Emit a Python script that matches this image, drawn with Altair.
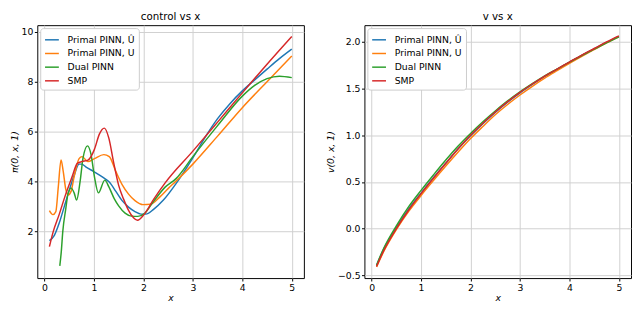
import altair as alt
import pandas as pd

series_names = ["Primal PINN, Û", "Primal PINN, U", "Dual PINN", "SMP"]
colors = ["#1f77b4", "#ff7f0e", "#2ca02c", "#d62728"]

# ---- left panel: control vs x ----
blue_x = [0.10, 0.20, 0.30, 0.40, 0.50, 0.60, 0.70, 0.75, 0.85, 1.00, 1.20, 1.31, 1.44, 1.57, 1.70, 1.83, 1.95, 2.05, 2.20, 2.40, 2.66, 3.00, 3.25, 3.50, 3.75, 4.00, 4.25, 4.50, 4.75, 5.00]
blue_y = [1.64, 1.85, 2.35, 3.00, 3.65, 4.25, 4.70, 4.70, 4.57, 4.40, 4.15, 3.98, 3.62, 3.24, 2.98, 2.80, 2.70, 2.70, 2.88, 3.25, 3.92, 4.95, 5.78, 6.52, 7.12, 7.63, 8.07, 8.50, 8.92, 9.30]

orange_x = [0.10, 0.17, 0.23, 0.28, 0.335, 0.38, 0.43, 0.48, 0.54, 0.60, 0.70, 0.76, 0.88, 1.01, 1.20, 1.31, 1.44, 1.57, 1.70, 1.83, 1.99, 2.15, 2.34, 2.50, 2.66, 3.00, 3.50, 4.00, 4.50, 5.00]
orange_y = [2.84, 2.68, 2.80, 3.80, 4.87, 4.40, 3.70, 3.47, 3.62, 4.20, 4.92, 5.00, 4.80, 4.92, 5.08, 5.00, 4.42, 3.88, 3.50, 3.24, 3.08, 3.10, 3.40, 3.72, 4.02, 4.70, 5.82, 6.96, 8.00, 9.03]

green_x = [0.31, 0.34, 0.37, 0.43, 0.48, 0.54, 0.60, 0.65, 0.72, 0.78, 0.87, 0.94, 1.01, 1.09, 1.22, 1.30, 1.41, 1.50, 1.63, 1.76, 1.89, 2.02, 2.21, 2.44, 2.66, 3.00, 3.50, 4.00, 4.25, 4.50, 4.75, 5.00]
green_y = [0.63, 1.20, 2.00, 2.90, 3.55, 3.74, 3.55, 3.26, 4.00, 4.95, 5.43, 5.10, 4.20, 3.55, 4.06, 3.80, 3.32, 3.03, 2.74, 2.62, 2.61, 2.72, 3.22, 3.78, 4.12, 5.00, 6.24, 7.42, 7.85, 8.12, 8.22, 8.16]

red_x = [0.10, 0.17, 0.30, 0.43, 0.56, 0.66, 0.75, 0.88, 1.01, 1.11, 1.21, 1.30, 1.40, 1.50, 1.60, 1.70, 1.80, 1.88, 2.02, 2.21, 2.44, 3.00, 3.50, 4.00, 4.50, 5.00]
red_y = [1.40, 1.95, 2.70, 3.50, 4.20, 4.72, 4.80, 4.86, 5.29, 5.90, 6.14, 5.75, 4.75, 3.85, 3.30, 2.85, 2.55, 2.45, 2.70, 3.30, 3.95, 5.22, 6.38, 7.55, 8.70, 9.81]

# ---- right panel: v vs x ----
v_x = [0.10, 0.25, 0.50, 0.75, 1.00, 1.25, 1.50, 1.75, 2.00, 2.25, 2.50, 2.75, 3.00, 3.25, 3.50, 3.75, 4.00, 4.25, 4.50, 4.75, 5.00]
v_blue = [-0.395, -0.215, 0.01, 0.21, 0.38, 0.545, 0.70, 0.855, 0.995, 1.125, 1.245, 1.355, 1.455, 1.545, 1.63, 1.708, 1.783, 1.857, 1.927, 1.995, 2.06]
v_orange = [-0.41, -0.24, -0.01, 0.185, 0.355, 0.515, 0.67, 0.82, 0.965, 1.095, 1.22, 1.33, 1.432, 1.525, 1.612, 1.692, 1.77, 1.845, 1.918, 1.99, 2.055]
v_green = [-0.39, -0.205, 0.03, 0.235, 0.41, 0.575, 0.735, 0.885, 1.02, 1.145, 1.26, 1.368, 1.465, 1.553, 1.636, 1.71, 1.783, 1.855, 1.923, 1.99, 2.055]
v_red = [-0.405, -0.23, 0.0, 0.20, 0.375, 0.54, 0.70, 0.855, 1.0, 1.13, 1.25, 1.36, 1.46, 1.55, 1.635, 1.71, 1.785, 1.86, 1.93, 2.0, 2.065]


def long_frame(pairs):
    rows = []
    for order, (name, xs, ys) in enumerate(pairs):
        for x, y in zip(xs, ys):
            rows.append({"series": name, "order": order, "x": x, "y": y})
    return pd.DataFrame(rows)


left_df = long_frame([
    (series_names[0], blue_x, blue_y),
    (series_names[1], orange_x, orange_y),
    (series_names[2], green_x, green_y),
    (series_names[3], red_x, red_y),
])
right_df = long_frame([
    (series_names[0], v_x, v_blue),
    (series_names[1], v_x, v_orange),
    (series_names[2], v_x, v_green),
    (series_names[3], v_x, v_red),
])

color_scale = alt.Scale(domain=series_names, range=colors)
legend = alt.Legend(
    title=None, orient="top-left", offset=3, symbolType="stroke",
    symbolSize=200, symbolStrokeWidth=1.5, labelFontSize=9.5, labelFont="DejaVu Sans",
    fillColor="white", strokeColor="#cccccc", cornerRadius=3, padding=4,
    rowPadding=1, labelOffset=8, labelColor="black",
)

x_axis = alt.Axis(values=[0, 1, 2, 3, 4, 5], title="x", titleFontStyle="italic", titlePadding=1)


def panel(df, title, ytitle, ydomain, yvalues, yfmt):
    return alt.Chart(df, title=alt.TitleParams(title, fontSize=10.5, fontWeight="normal",
                                                 font="DejaVu Sans", offset=3, color="black")).mark_line(
        strokeWidth=1.5, interpolate="monotone"
    ).encode(
        x=alt.X("x:Q", scale=alt.Scale(domain=[-0.145, 5.245], nice=False, zero=False), axis=x_axis),
        y=alt.Y("y:Q", scale=alt.Scale(domain=ydomain, nice=False, zero=False),
                axis=alt.Axis(values=yvalues, format=yfmt, title=ytitle, titleFontStyle="italic")),
        color=alt.Color("series:N", scale=color_scale, legend=legend),
        order="order:Q",
        detail="series:N",
    )


left = panel(left_df, "control vs x", "π(0, x, 1)", [0.14, 10.26], [2, 4, 6, 8, 10], "d").properties(width=273, height=259)
right = panel(right_df, "v vs x", "v(0, x, 1)", [-0.53, 2.18], [-0.5, 0.0, 0.5, 1.0, 1.5, 2.0], ".1f").properties(width=273, height=259)

chart = alt.hconcat(left, right, spacing=20).resolve_scale(color="independent").resolve_legend(color="independent").properties(
    padding=0
).configure_view(stroke="black", strokeWidth=1).configure_axis(
    grid=True, gridColor="#d0d0d0", gridWidth=1, domain=False, tickColor="black", tickSize=3,
    labelFontSize=9.5, labelFont="DejaVu Sans", labelColor="black", titleFontSize=9.5,
    titleFont="DejaVu Sans", titleFontWeight="normal", titleColor="black", labelPadding=1.5, titlePadding=2,
)

chart.save("out.html", embed_options={"renderer": "svg", "actions": False})
